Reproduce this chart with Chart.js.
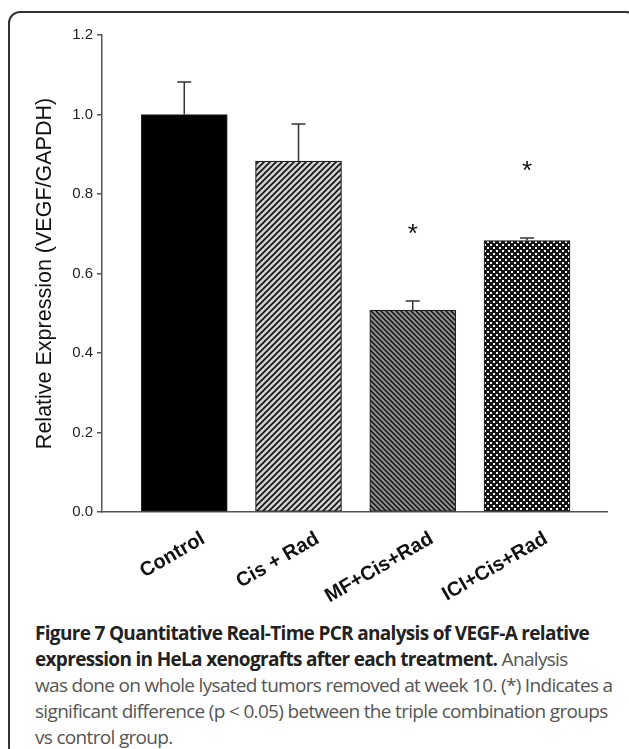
<!DOCTYPE html>
<html>
<head>
<meta charset="utf-8">
<script src="https://cdn.jsdelivr.net/npm/chart.js@4.4.0/dist/chart.umd.min.js"></script>
<style>
  html, body { margin: 0; padding: 0; background: #fff; }
  #wrap { position: relative; width: 629px; height: 749px; overflow: hidden; }
  #frame {
    position: absolute; left: 8px; top: 11px; width: 630px; height: 748px;
    border: 2px solid #333; border-radius: 12px; box-sizing: border-box;
  }
  #chart { position: absolute; left: 0; top: 0; }
  #caption {
    position: absolute; left: 35px; top: 620px;
    font-family: "Open Sans", sans-serif; font-size: 19px; line-height: 26px;
    color: #555; white-space: nowrap; letter-spacing: -0.68px;
  }
  #caption b { color: #222; }
</style>
</head>
<body>
<div id="wrap">
  <div id="frame"></div>
  <canvas id="chart" width="629" height="615"></canvas>
  <div id="caption">
    <b>Figure 7 Quantitative Real-Time PCR analysis of VEGF-A relative</b><br>
    <b>expression in HeLa xenografts after each treatment.</b> Analysis<br>
    was done on whole lysated tumors removed at week 10. (*) Indicates a<br>
    significant difference (p &lt; 0.05) between the triple combination groups<br>
    vs control group.
  </div>
</div>
<script>
// Data
const groups = ['Control', 'Cis + Rad', 'MF+Cis+Rad', 'ICI+Cis+Rad'];
const means = [1.0, 0.883, 0.508, 0.683];
const errors = [0.082, 0.093, 0.023, 0.006];
const significant = [false, false, true, true];
const yTicks = [0.0, 0.2, 0.4, 0.6, 0.8, 1.0, 1.2];

const ctx = document.getElementById('chart').getContext('2d');

function tile(draw, size) {
    const c = document.createElement('canvas');
    c.width = size; c.height = size;
    draw(c.getContext('2d'), size);
    return ctx.createPattern(c, 'repeat');
}

// light gray with "/" stripes
const patCis = tile((g, s) => {
    g.fillStyle = '#d0d0d0'; g.fillRect(0, 0, s, s);
    g.strokeStyle = '#111'; g.lineWidth = 1.6;
    g.beginPath();
    g.moveTo(-1, s + 1); g.lineTo(s + 1, -1);
    g.moveTo(-1, 1); g.lineTo(1, -1);
    g.moveTo(s - 1, s + 1); g.lineTo(s + 1, s - 1);
    g.stroke();
}, 6);

// mid gray with "\" stripes
const patMF = tile((g, s) => {
    g.fillStyle = '#8e8e8e'; g.fillRect(0, 0, s, s);
    g.strokeStyle = '#111'; g.lineWidth = 1.5;
    g.beginPath();
    g.moveTo(-1, -1); g.lineTo(s + 1, s + 1);
    g.moveTo(s - 1, -1); g.lineTo(s + 1, 1);
    g.moveTo(-1, s - 1); g.lineTo(1, s + 1);
    g.stroke();
}, 5);

// dark checker with white dots
const patICI = tile((g, s) => {
    g.fillStyle = '#151515'; g.fillRect(0, 0, s, s);
    g.fillStyle = '#f6f6f6';
    g.fillRect(1, 1, 2, 2);
    g.fillRect(4, 4, 2, 2);
}, 6);

const fills = ['#000', patCis, patMF, patICI];

// Error bars + asterisks
const errorBarPlugin = {
    id: 'errorBars',
    afterDatasetsDraw(chart) {
        const c = chart.ctx;
        const x = chart.scales.x, y = chart.scales.y;
        c.save();
        c.strokeStyle = '#333';
        c.lineWidth = 1.5;
        means.forEach((m, i) => {
            const px = x.getPixelForValue(i);
            const top = y.getPixelForValue(m + errors[i]);
            const base = y.getPixelForValue(m);
            c.beginPath();
            c.moveTo(px, base); c.lineTo(px, top);
            c.moveTo(px - 7, top); c.lineTo(px + 7, top);
            c.stroke();
            if (significant[i]) {
                c.fillStyle = '#111';
                c.font = '26px "Liberation Sans", Arial, sans-serif';
                c.textAlign = 'center';
                c.textBaseline = 'middle';
                c.fillText('*', px, y.getPixelForValue(m + errors[i] + 0.18) + 5);
            }
        });
        c.restore();
    }
};

new Chart(ctx, {
    type: 'bar',
    data: {
        datasets: [{
            data: means.map((v, i) => ({ x: i, y: v })),
            backgroundColor: fills,
            borderColor: '#222',
            borderWidth: 1.2,
            borderSkipped: false,
            barThickness: 86
        }]
    },
    options: {
        responsive: false,
        animation: false,
        layout: { padding: { top: 35, left: 0, right: 22, bottom: 0 } },
        plugins: { legend: { display: false }, tooltip: { enabled: false } },
        scales: {
            x: {
                type: 'linear',
                offset: false,
                min: -0.72,
                max: 3.7,
                afterBuildTicks: s => { s.ticks = groups.map((g, i) => ({ value: i })); },
                afterFit: s => { s.height = 103; },
                border: { color: '#555', width: 1.5 },
                grid: { display: false, offset: false },
                ticks: {
                    autoSkip: false,
                    maxRotation: 30,
                    minRotation: 30,
                    labelOffset: 19,
                    padding: 7,
                    color: '#111',
                    font: { family: '"Liberation Sans", Arial, sans-serif', size: 20, weight: 'bold' },
                    callback: v => groups[v]
                }
            },
            y: {
                min: 0,
                max: 1.2,
                afterBuildTicks: s => { s.ticks = yTicks.map(v => ({ value: v })); },
                afterFit: s => { s.width = 102; },
                border: { color: '#555', width: 1.5 },
                grid: { drawOnChartArea: false, tickLength: 5, color: '#555', lineWidth: 1.5 },
                ticks: {
                    padding: 4,
                    color: '#222',
                    font: { family: '"Liberation Sans", Arial, sans-serif', size: 15 },
                    callback: v => v.toFixed(1)
                },
                title: {
                    display: true,
                    text: 'Relative Expression (VEGF/GAPDH)',
                    color: '#111',
                    font: { family: '"Liberation Sans", Arial, sans-serif', size: 21.5 },
                    padding: { top: 32, bottom: 0 }
                }
            }
        }
    },
    plugins: [errorBarPlugin]
});
</script>
</body>
</html>
